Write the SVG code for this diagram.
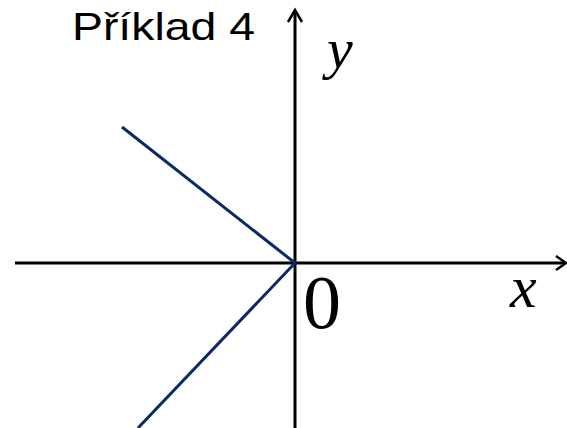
<svg xmlns="http://www.w3.org/2000/svg" width="567" height="428" viewBox="0 0 567 428">
<style>
.ax{stroke:#000;stroke-width:3;fill:none}
.ah{stroke:#000;stroke-width:2.5;fill:none}
.gr{stroke:#0b2a66;stroke-width:3;fill:none}
.tm{font-family:"Liberation Serif","Times New Roman",serif;fill:#000}
</style>
<rect width="567" height="428" fill="#fff"/>
<g id="title"><text x="72" y="40" font-family="'Liberation Sans',Arial,sans-serif" font-size="39" textLength="183" lengthAdjust="spacingAndGlyphs">Příklad 4</text></g>
<g id="connectors">
<line class="ax" x1="15" y1="263" x2="565" y2="263"/>
<polyline class="ah" points="556,256 566,263 556,270"/>
<line class="ax" x1="295" y1="428" x2="295" y2="11"/>
<polyline class="ah" points="288,22 295,10 302,22"/>
<polyline class="gr" points="122,127 295,263 138,428"/>
</g>
<g id="labels">
<text class="tm" x="327" y="68" font-size="58" font-style="italic">y</text>
<text class="tm" x="303" y="328" font-size="76">0</text>
<text class="tm" x="510" y="307" font-size="60" font-style="italic">x</text>
</g>
</svg>
